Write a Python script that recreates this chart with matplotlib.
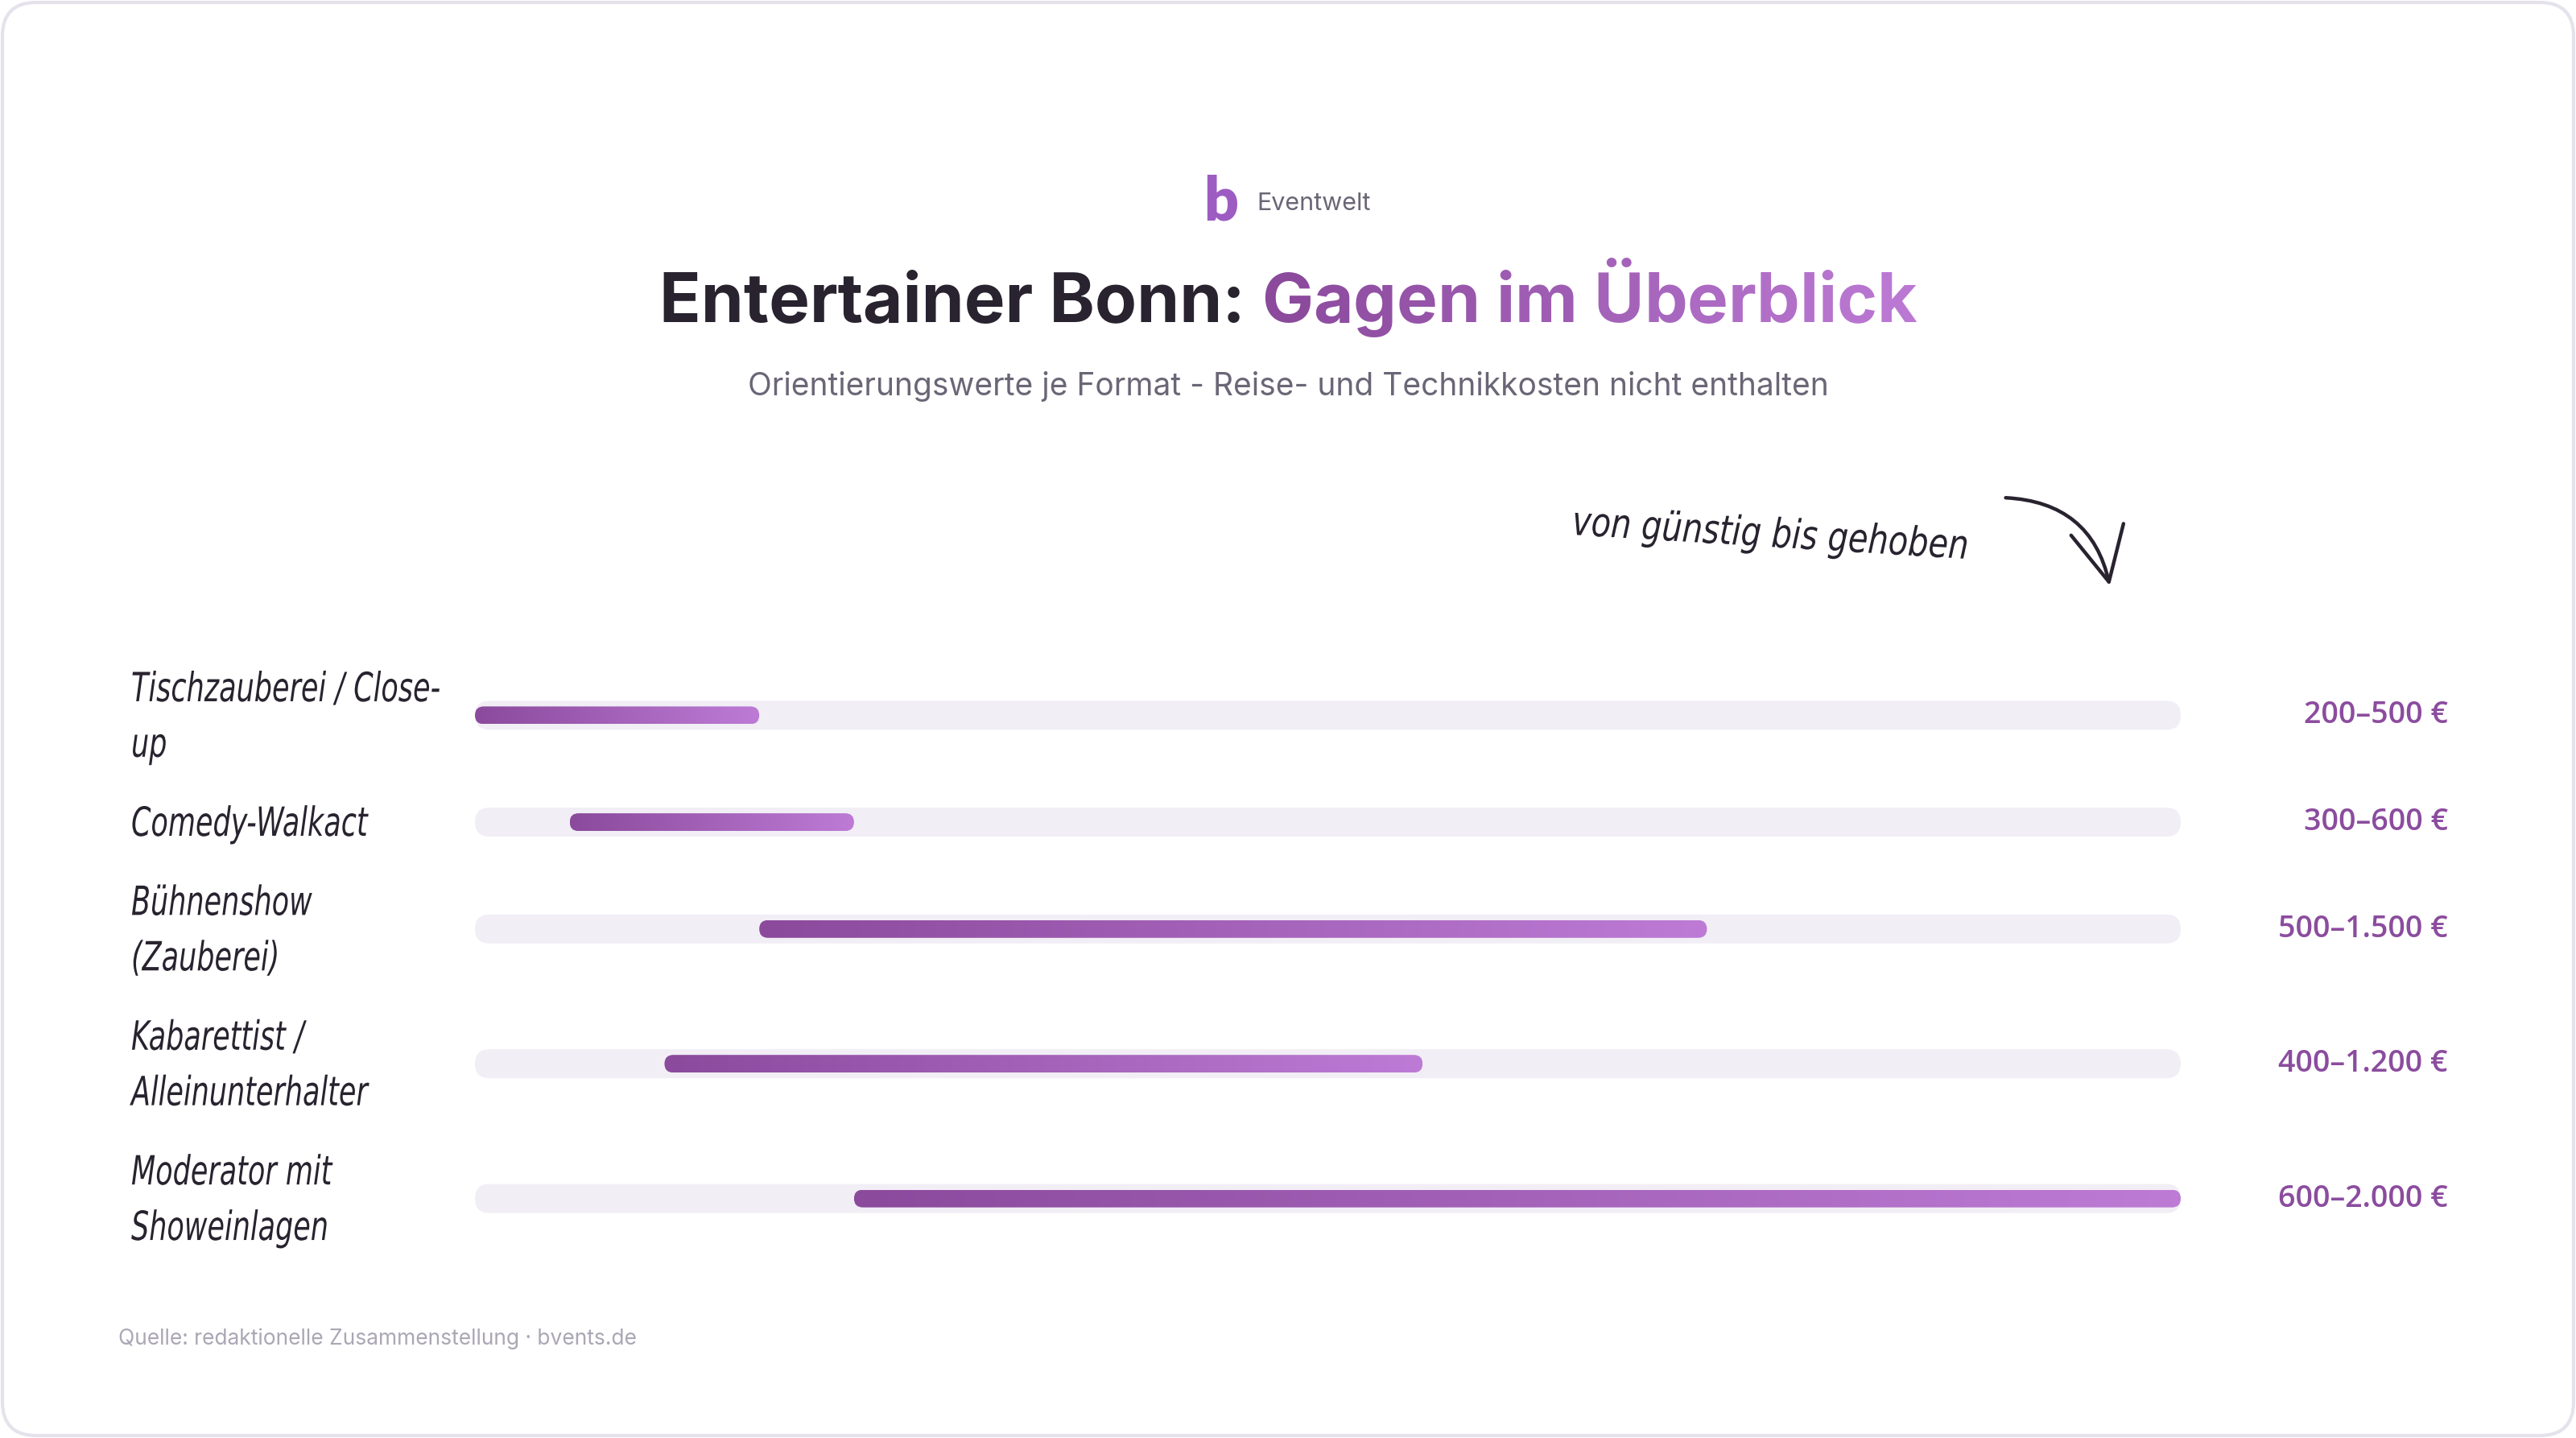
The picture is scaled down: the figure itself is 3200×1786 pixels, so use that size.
import numpy as np
import matplotlib
matplotlib.use("Agg")
import matplotlib.pyplot as plt
from matplotlib.colors import LinearSegmentedColormap
from matplotlib.patches import FancyBboxPatch, FancyArrowPatch
from matplotlib import transforms, patheffects

# Daten
formats = ["Tischzauberei / Close-\nup", "Comedy-Walkact", "Bühnenshow\n(Zauberei)",
           "Kabarettist /\nAlleinunterhalter", "Moderator mit\nShoweinlagen"]
low = [200, 300, 500, 400, 600]
high = [500, 600, 1500, 1200, 2000]
value_labels = ["200–500 €", "300–600 €", "500–1.500 €", "400–1.200 €", "600–2.000 €"]
x_min, x_max = 200, 2000

title_dark = "Entertainer Bonn:"
title_color = "Gagen im Überblick"
subtitle = "Orientierungswerte je Format - Reise- und Technikkosten nicht enthalten"
note = "von günstig bis gehoben"
source = "Quelle: redaktionelle Zusammenstellung · bvents.de"

# Farben
DARK = "#28232F"
GREY = "#6B6676"
PURPLE = "#8B4C9E"
TRACK = "#F1EEF6"
grad = LinearSegmentedColormap.from_list("lila", ["#8B4A9C", "#BD7BD6"])


class Squeeze(patheffects.AbstractPathEffect):
    # schmalere "Handschrift": Glyphen horizontal stauchen
    def __init__(self, sx):
        super().__init__()
        self.sx = sx

    def draw_path(self, renderer, gc, tpath, affine, rgbFace=None):
        renderer.draw_path(gc, tpath, transforms.Affine2D().scale(self.sx, 1) + affine, rgbFace)


HAND = dict(family="DejaVu Sans", style="oblique", color=DARK)

W, H, DPI = 3200, 1786, 200
fig = plt.figure(figsize=(W / DPI, H / DPI), dpi=DPI)
fig.patch.set_facecolor("white")
renderer = fig.canvas.get_renderer()

# Hintergrund-Achse in Pixeln (y nach unten)
bg = fig.add_axes([0, 0, 1, 1])
bg.axis("off")
bg.set_xlim(0, W)
bg.set_ylim(H, 0)
bg.add_patch(FancyBboxPatch((3, 3), W - 6, H - 6, boxstyle="round,pad=0,rounding_size=42",
                            fc="white", ec="#E5E2EC", lw=1.5))

# Logo + Marke
bg.text(1517, 252, "b", ha="center", va="center", fontsize=27, fontweight="heavy",
        family="Lato", color="#9D5CC2")
bg.text(1561, 253, "Eventwelt", ha="left", va="center", fontsize=11, family="Inter", color=GREY)

# Titel, zweiter Teil mit Farbverlauf (zeichenweise)
tkw = dict(fontsize=30.7, family="Inter", fontweight="bold", va="baseline", ha="left")


def text_w(s):
    t = bg.text(0, 0, s, **tkw)
    w = t.get_window_extent(renderer).width
    t.remove()
    return w


base = 400
w_full = text_w(title_dark + " " + title_color)
x0 = W / 2 - w_full / 2
right = x0 + w_full
bg.text(x0, base, title_dark, color=DARK, **tkw)
x_start = right - text_w(title_color)
for i, ch in enumerate(title_color):
    if ch == " ":
        continue
    xi = right - text_w(title_color[i:])
    bg.text(xi, base, ch, color=grad((xi - x_start) / (right - x_start)), **tkw)

bg.text(W / 2, 480, subtitle, ha="center", va="center", fontsize=14, family="Inter", color=GREY)

# Handschrift-Hinweis mit Pfeil
bg.text(1953, 650, note, ha="left", va="center", fontsize=18, rotation=-3.5,
        rotation_mode="anchor", path_effects=[Squeeze(0.8)], **HAND)
bg.add_patch(FancyArrowPatch((2486, 618), (2622, 733), connectionstyle="arc3,rad=-0.4",
                             arrowstyle="->,head_length=8,head_width=4", color=DARK,
                             lw=1.6, mutation_scale=3))

bg.text(147, 1663, source, ha="left", va="center", fontsize=9.5, family="Inter", color="#ABA7B5")

# Balken-Achse
left_px, right_px, top_px, bot_px = 590, 2709, 790, 1580
ax = fig.add_axes([left_px / W, 1 - bot_px / H, (right_px - left_px) / W, (bot_px - top_px) / H])
ax.axis("off")
ux = (x_max - x_min) / (right_px - left_px)

line_h, row_gap, y = 69.4, 28.6, 819
centers = []
for f in formats:
    h = (f.count("\n") + 1) * line_h
    centers.append(y + h / 2)
    y += h + row_gap

lbl_tr = transforms.blended_transform_factory(fig.transFigure, ax.transData)
for f, lo, hi, val, c in zip(formats, low, high, value_labels, centers):
    ax.add_patch(FancyBboxPatch((x_min, c - 18), x_max - x_min, 36,
                                boxstyle=f"round,pad=0,rounding_size={18 * ux}",
                                mutation_aspect=1 / ux, fc=TRACK, ec="none", zorder=1))
    bar = FancyBboxPatch((lo, c - 11), hi - lo, 22, boxstyle=f"round,pad=0,rounding_size={11 * ux}",
                         mutation_aspect=1 / ux, fc="none", ec="none", zorder=2)
    ax.add_patch(bar)
    g = ax.imshow(np.linspace(0, 1, 256).reshape(1, -1), cmap=grad, aspect="auto",
                  extent=[lo, hi, c + 11, c - 11], zorder=3, interpolation="bilinear")
    g.set_clip_path(bar)
    ax.text(163 / W, c + 3, f, transform=lbl_tr, ha="left", va="center", fontsize=18,
            linespacing=1.55, path_effects=[Squeeze(0.7)], **HAND)
    ax.text(3041 / W, c, val, transform=lbl_tr, ha="right", va="center", fontsize=13.5,
            family="Open Sans", fontweight="semibold", color=PURPLE)

ax.set_xlim(x_min, x_max)
ax.set_ylim(bot_px, top_px)

fig.savefig("out.png", dpi=DPI, facecolor="white")
